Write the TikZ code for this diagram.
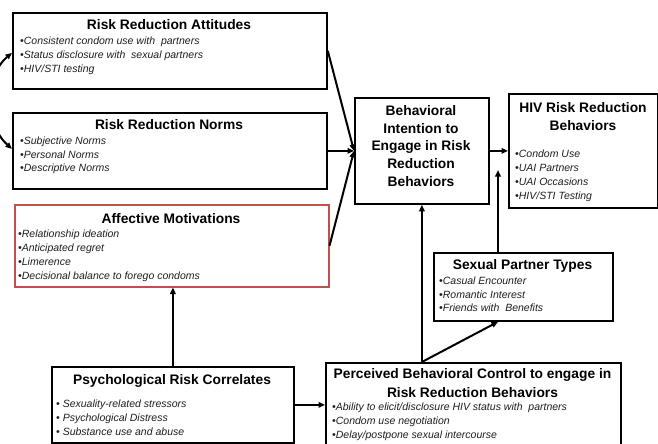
\documentclass[tikz,border=0pt]{standalone}
\usepackage{fontspec}
\setmainfont{Liberation Sans}
\usetikzlibrary{arrows.meta}
\definecolor{boxred}{RGB}{192,80,77}
\definecolor{itemgray}{RGB}{30,30,30}
\begin{document}
\begin{tikzpicture}[x=1pt,y=-1pt,
  box/.style={draw=black, line width=1.8pt, anchor=north west, inner sep=0pt, fill=white},
  redbox/.style={box, draw=boxred, line width=1.5pt},
  ttl/.style={font=\bfseries\fontsize{13.8}{17}\selectfont, anchor=base, inner sep=0pt},
  itm/.style={font=\itshape\fontsize{10.5}{13}\selectfont, anchor=base west, inner sep=0pt, text=itemgray},
  arr/.style={line width=2pt, -{Triangle[length=6.5pt,width=5.5pt]}},
  darr/.style={line width=2pt, {Triangle[length=6.5pt,width=5.5pt]}-{Triangle[length=6.5pt,width=5.5pt]}},
]
\useasboundingbox (0,0) rectangle (658,444);
\clip (0,0) rectangle (658,444);

% boxes
\node[box, minimum width=314pt, minimum height=76pt] (att) at (12,12) {};
\node[box, minimum width=314pt, minimum height=76pt] (nrm) at (12,112) {};
\node[redbox, minimum width=314pt, minimum height=82pt] (aff) at (14,204) {};
\node[box, minimum width=134pt, minimum height=106pt] (bi) at (354,97) {};
\node[box, minimum width=149pt, minimum height=114pt] (hiv) at (508,93) {};
\node[box, minimum width=179pt, minimum height=68pt] (spt) at (433,252) {};
\node[box, minimum width=295pt, minimum height=96pt] (pbc) at (325,362) {};
\node[box, minimum width=242pt, minimum height=76pt] (psy) at (51,366) {};

% Risk Reduction Attitudes
\node[ttl] (attT) at (169,30) {Risk Reduction Attitudes};
\node[itm] (att1) at (20,45) {•Consistent condom use with \ partners};
\node[itm] (att2) at (20,58.5) {•Status disclosure with \ sexual partners};
\node[itm] (att3) at (20,72) {•HIV/STI testing};

% Risk Reduction Norms
\node[ttl] (nrmT) at (169,129) {Risk Reduction Norms};
\node[itm] (nrm1) at (20,144.5) {•Subjective Norms};
\node[itm] (nrm2) at (20,158) {•Personal Norms};
\node[itm] (nrm3) at (20,171.5) {•Descriptive Norms};

% Affective Motivations
\node[ttl] (affT) at (171,223) {Affective Motivations};
\node[itm] (aff1) at (18,237.5) {•Relationship ideation};
\node[itm] (aff2) at (18,251.5) {•Anticipated regret};
\node[itm] (aff3) at (18,265.5) {•Limerence};
\node[itm] (aff4) at (18,279.5) {•Decisional balance to forego condoms};

% Behavioral Intention
\node[ttl] (bi1) at (421,115) {Behavioral};
\node[ttl] (bi2) at (421,133) {Intention to};
\node[ttl] (bi3) at (421,150.5) {Engage in Risk};
\node[ttl] (bi4) at (421,168.5) {Reduction};
\node[ttl] (bi5) at (421,186) {Behaviors};

% HIV Risk Reduction Behaviors
\node[ttl] (hivT1) at (583,112) {HIV Risk Reduction};
\node[ttl] (hivT2) at (583,130) {Behaviors};
\node[itm] (hiv1) at (515,157.5) {•Condom Use};
\node[itm] (hiv2) at (515,171.5) {•UAI Partners};
\node[itm] (hiv3) at (515,185.5) {•UAI Occasions};
\node[itm] (hiv4) at (515,199.5) {•HIV/STI Testing};

% Sexual Partner Types
\node[ttl] (sptT) at (522.5,269) {Sexual Partner Types};
\node[itm] (spt1) at (439,284.5) {•Casual Encounter};
\node[itm] (spt2) at (439,298) {•Romantic Interest};
\node[itm] (spt3) at (439,311.5) {•Friends with \ Benefits};

% Perceived Behavioral Control
\node[ttl] (pbcT1) at (472.5,378) {Perceived Behavioral Control to engage in};
\node[ttl] (pbcT2) at (472.5,397) {Risk Reduction Behaviors};
\node[itm] (pbc1) at (332,410.5) {•Ability to elicit/disclosure HIV status with \ partners};
\node[itm] (pbc2) at (332,424.5) {•Condom use negotiation};
\node[itm] (pbc3) at (332,438.5) {•Delay/postpone sexual intercourse};

% Psychological Risk Correlates
\node[ttl] (psyT) at (172,384) {Psychological Risk Correlates};
\node[itm] (psy1) at (56,407.5) {• Sexuality-related stressors};
\node[itm] (psy2) at (56,421.5) {• Psychological Distress};
\node[itm] (psy3) at (56,435.5) {• Substance use and abuse};

% connectors
\draw[arr] (att.east) -- (bi.west);
\draw[arr] (nrm.east) -- (bi.west);
\draw[arr] (aff.east) -- (bi.west);
\draw[arr] (bi.east) -- (hiv.west);
\coordinate (mod) at (498,170);
\draw[arr] (spt.north -| mod) -- (mod);
\coordinate (pbcout) at (bi.south |- pbc.north);
\draw[arr] (pbcout) -- (bi.south);
\draw[arr] (pbcout) -- (spt.south -| mod);
\draw[arr] (psy.north) -- (psy.north |- aff.south);
\draw[arr] (psy.east) -- (psy.east -| pbc.west);
\draw[darr] ([yshift=-2pt]att.west) .. controls (-15,75) and (-15,125) .. ([yshift=2pt]nrm.west);
\end{tikzpicture}
\end{document}
